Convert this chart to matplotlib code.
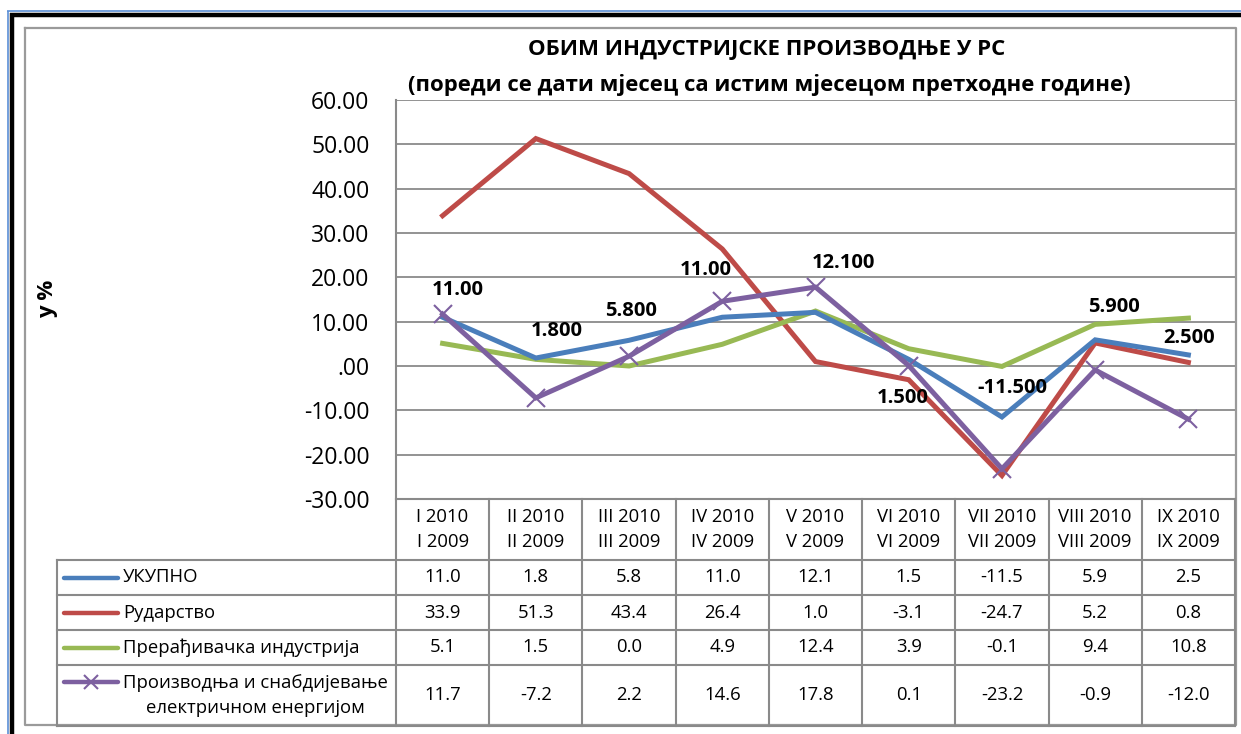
import matplotlib
matplotlib.use("Agg")
import matplotlib.pyplot as plt
from matplotlib.ticker import FuncFormatter, MultipleLocator

plt.rcParams['font.family'] = ['Open Sans', 'DejaVu Sans']

# ---------------- data ----------------
categories_top = ["I 2010", "II 2010", "III 2010", "IV 2010", "V 2010",
                  "VI 2010", "VII 2010", "VIII 2010", "IX 2010"]
categories_bottom = ["I 2009", "II 2009", "III 2009", "IV 2009", "V 2009",
                     "VI 2009", "VII 2009", "VIII 2009", "IX 2009"]
series_names = ["УКУПНО", "Рударство", "Прерађивачка индустрија",
                "Производња и снабдијевање\nелектричном енергијом"]
ukupno = [11.0, 1.8, 5.8, 11.0, 12.1, 1.5, -11.5, 5.9, 2.5]
rudarstvo = [33.9, 51.3, 43.4, 26.4, 1.0, -3.1, -24.7, 5.2, 0.8]
preradjivacka = [5.1, 1.5, 0.0, 4.9, 12.4, 3.9, -0.1, 9.4, 10.8]
energija = [11.7, -7.2, 2.2, 14.6, 17.8, 0.1, -23.2, -0.9, -12.0]
ukupno_labels = ["11.00", "1.800", "5.800", "11.00", "12.100",
                 "1.500", "-11.500", "5.900", "2.500"]
title_line1 = "ОБИМ ИНДУСТРИЈСКЕ ПРОИЗВОДЊЕ У РС"
title_line2 = "(пореди се дати мјесец са истим мјесецом претходне године)"
y_label = "у %"

# ---------------- styles ----------------
colors = ["#4A7EBB", "#BE4B48", "#98B954", "#7D60A0"]
W, H = 1241, 734
fig = plt.figure(figsize=(W / 100, H / 100), dpi=100)

# overlay axes in pixel coordinates (frame + data table)
ov = fig.add_axes([0, 0, 1, 1], zorder=0)
ov.set_xlim(0, W)
ov.set_ylim(H, 0)
ov.axis("off")

plot_l, plot_r, plot_t, plot_b = 396, 1235, 100, 499
ax = fig.add_axes([plot_l / W, 1 - plot_b / H, (plot_r - plot_l) / W,
                   (plot_b - plot_t) / H], zorder=1)
ax.set_facecolor("none")
n = len(ukupno)
xs = list(range(n))
ax.set_xlim(-0.5, n - 0.5)
ax.set_ylim(-30, 60)
ax.yaxis.set_major_locator(MultipleLocator(10))


def fmt(v, pos):
    if abs(v) < 1e-9:
        return ".00"
    return f"{v:.2f}"


ax.yaxis.set_major_formatter(FuncFormatter(fmt))
ax.tick_params(axis="y", length=0, pad=19, labelsize=16.5)
ax.set_xticks([])
ax.grid(axis="y", color="#8a8a8a", linewidth=1.3)
for s in ["top", "right", "bottom"]:
    ax.spines[s].set_visible(False)
ax.spines["left"].set_color("#8a8a8a")
ax.spines["left"].set_linewidth(1.5)

lw = 3.6
ax.plot(xs, rudarstvo, color=colors[1], lw=lw, zorder=3, solid_joinstyle="miter")
ax.plot(xs, ukupno, color=colors[0], lw=lw, zorder=4, solid_joinstyle="miter")
ax.plot(xs, preradjivacka, color=colors[2], lw=lw, zorder=3, solid_joinstyle="miter")
ax.plot(xs, energija, color=colors[3], lw=lw, zorder=5, marker="x",
        markersize=13, markeredgewidth=1.5, solid_joinstyle="miter")

# data labels for УКУПНО (offsets in pixels)
offsets = [(15, 27), (21, 27), (2, 29), (-17, 47), (28, 49),
           (-6, -39), (10, 29), (19, 33), (1, 17)]
for x, v, lab, off in zip(xs, ukupno, ukupno_labels, offsets):
    ax.annotate(lab, (x, v), xytext=off, textcoords="offset pixels",
                ha="center", va="center", fontsize=14.5, fontweight="bold",
                zorder=6)

# ---------------- titles ----------------
ov.text(767, 50, title_line1, ha="center", va="center", fontsize=16,
        fontweight="bold")
ov.text(769, 85, title_line2, ha="center", va="center", fontsize=15.9,
        fontweight="bold")
ov.text(48, 299, y_label, ha="center", va="center", rotation=90,
        fontsize=16, fontweight="bold")

# ---------------- outer frames ----------------
ov.plot([7, W], [11, 11], color="#5B8FD6", lw=1.2, solid_capstyle="butt")
ov.plot([8, 8], [11, H], color="#5B8FD6", lw=1.2, solid_capstyle="butt")
ov.plot([10, W], [15, 15], color="black", lw=3.2, solid_capstyle="butt")
ov.plot([12, 12], [13, H], color="black", lw=3.2, solid_capstyle="butt")
gray = "#9a9a9a"
ov.plot([25, 1236, 1236, 25, 25], [28, 28, 725, 725, 28], color=gray, lw=1.6)

# ---------------- data table ----------------
tcol = "#8a8a8a"
col_w = (plot_r - plot_l) / n
rows = [499, 560, 595, 630, 665, 726]
leg_l = 57
ov.plot([plot_l, plot_r], [rows[0], rows[0]], color=tcol, lw=1.5)
for y in rows[1:]:
    ov.plot([leg_l, plot_r], [y, y], color=tcol, lw=1.5)
ov.plot([leg_l, leg_l], [rows[1], rows[-1]], color=tcol, lw=1.5)
ov.plot([plot_l, plot_l], [plot_b, rows[-1]], color=tcol, lw=1.5)
for i in range(1, n + 1):
    x = plot_l + i * col_w
    ov.plot([x, x], [rows[0], rows[-1]], color=tcol, lw=1.5)

tfs = 13.3
for i in range(n):
    cx = plot_l + (i + 0.5) * col_w
    ov.text(cx, (rows[0] + rows[1]) / 2,
            categories_top[i] + "\n" + categories_bottom[i],
            ha="center", va="center", fontsize=tfs, linespacing=1.48)

all_series = [ukupno, rudarstvo, preradjivacka, energija]
for r, vals in enumerate(all_series):
    cy = (rows[r + 1] + rows[r + 2]) / 2
    for i, v in enumerate(vals):
        cx = plot_l + (i + 0.5) * col_w
        ov.text(cx, cy, f"{v:.1f}", ha="center", va="center", fontsize=tfs)
    ky = cy if r < 3 else 682
    ov.plot([64, 118], [ky, ky], color=colors[r], lw=3.2,
            solid_capstyle="round")
    if r < 3:
        ov.text(123, cy, series_names[r], ha="left", va="center", fontsize=tfs)
    else:
        ov.text(255, cy, series_names[r], ha="center", va="center",
                fontsize=tfs, multialignment="center", linespacing=1.5)

# marker in the middle of the purple legend key
ov.plot([91], [682], color=colors[3], marker="x", markersize=10,
        markeredgewidth=1.5, linestyle="none")

fig.savefig("out.png", dpi=100)
